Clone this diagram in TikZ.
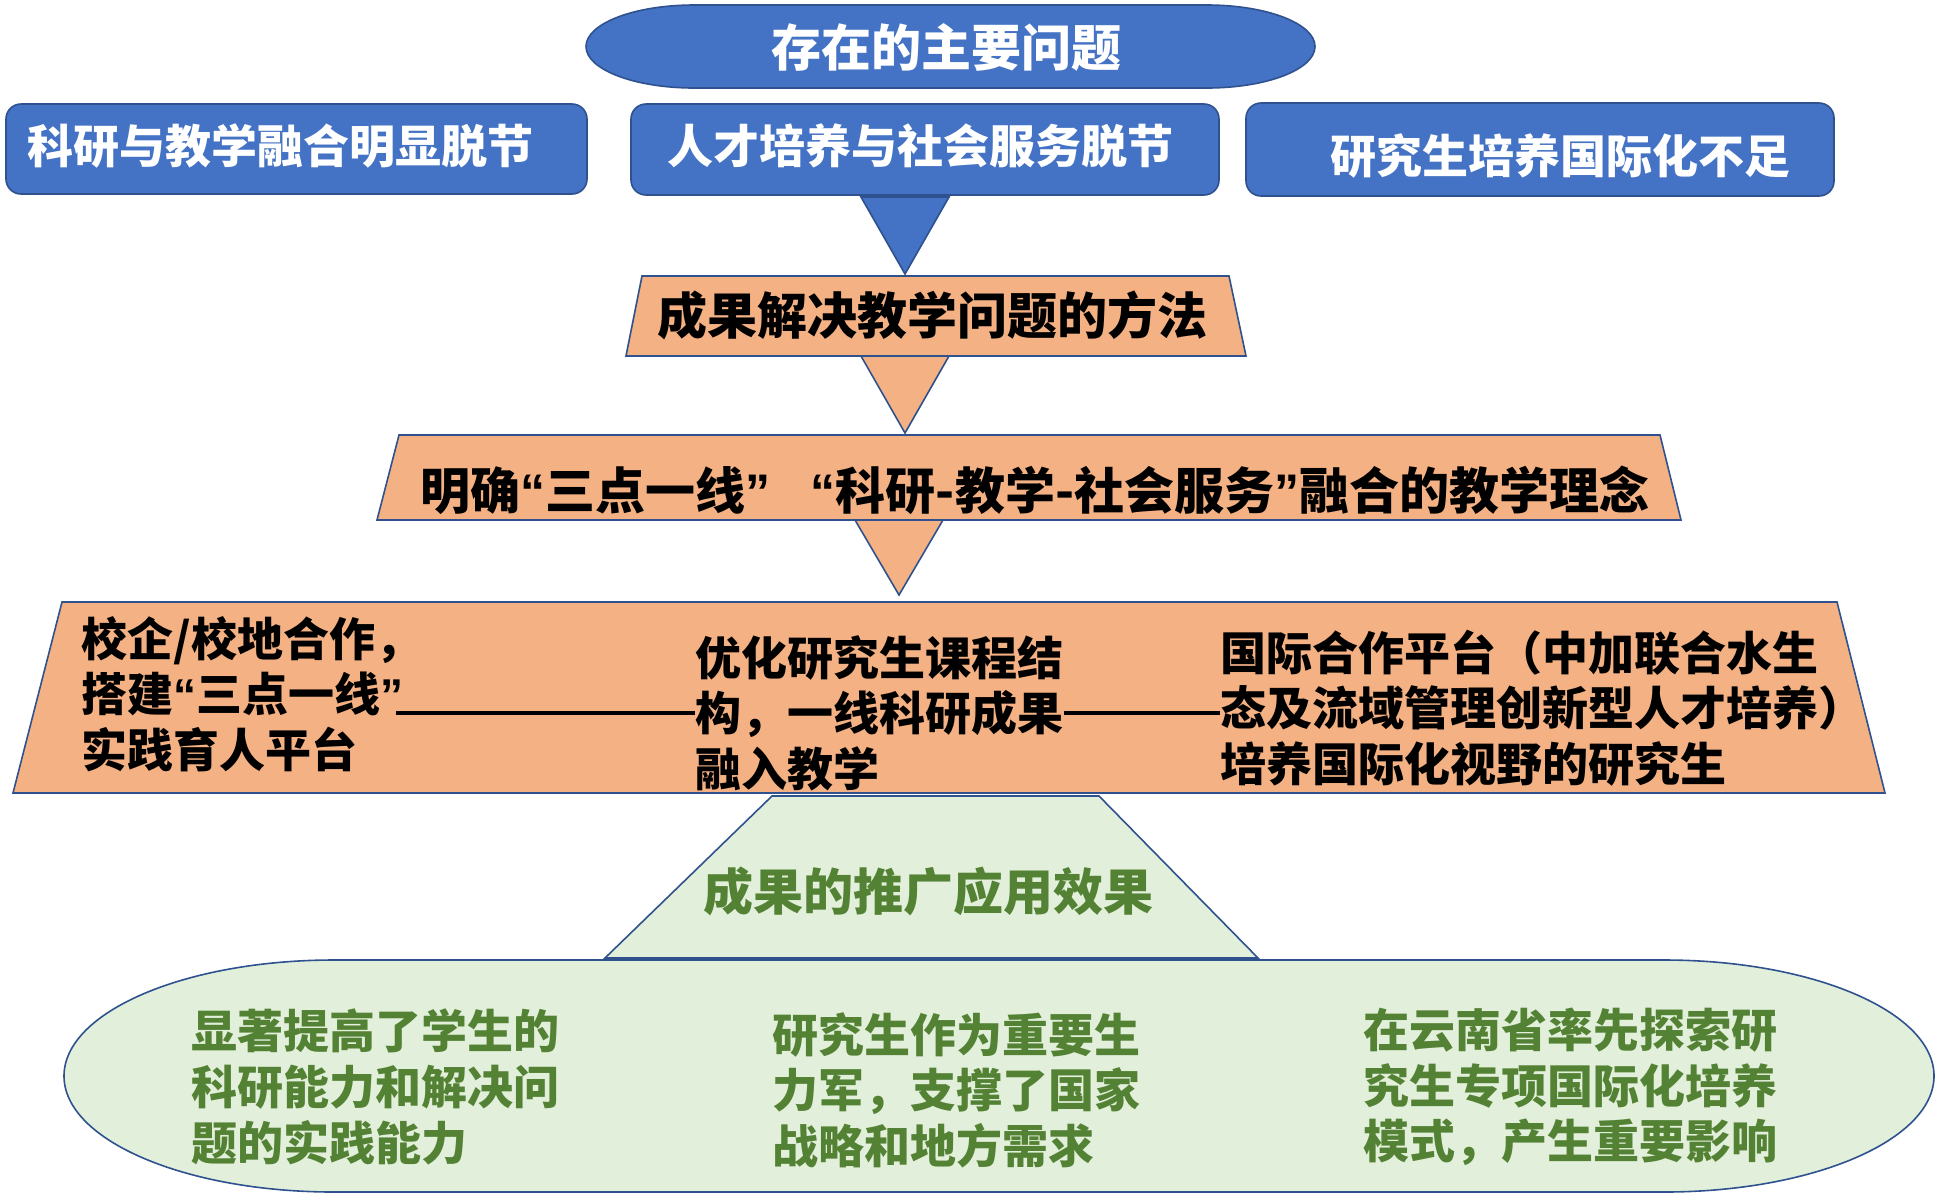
\documentclass[tikz,border=0pt]{standalone}
\usepackage{fontspec}
\setmainfont{Noto Sans CJK SC}
\newfontfamily\quotefont{Liberation Sans}
\newcommand{\qtopen}{{\quotefont “}}
\newcommand{\qtclose}{{\quotefont ”}}
\usepackage{tikz}
\definecolor{probBlue}{HTML}{4472C4}
\definecolor{edgeBlue}{HTML}{2F528F}
\definecolor{methodOrange}{HTML}{F4B183}
\definecolor{effectGreen}{HTML}{E2EFDA}
\definecolor{effectInk}{HTML}{548235}
\tikzset{
  probShape/.style={fill=probBlue, draw=edgeBlue, line width=0.8pt},
  methodShape/.style={fill=methodOrange, draw=edgeBlue, line width=0.8pt},
  effectShape/.style={fill=effectGreen, draw=edgeBlue, line width=0.8pt},
  bigText/.style={font=\bfseries\fontsize{25}{30}\selectfont, inner sep=0pt},
  midText/.style={font=\bfseries\fontsize{23}{27.8}\selectfont, inner sep=0pt, align=left},
  probText/.style={text=white},
  methodText/.style={text=black},
  effectText/.style={text=effectInk},
  linkLine/.style={draw=black, line width=1.8pt}
}

\begin{document}
\begin{tikzpicture}[x=0.5pt, y=-0.5pt]
  \useasboundingbox (0,0) rectangle (1937,1201);

  % problems
  \filldraw[probShape] (694,5) -- (1207,5)
    arc[start angle=-90, end angle=90, x radius=108, y radius=41.5] -- (694,88)
    arc[start angle=90, end angle=270, x radius=108, y radius=41.5] -- cycle;
  \node[bigText, probText] (probTitle) at (946,47) {存在的主要问题};

  \filldraw[probShape, rounded corners=7.5pt] (6,104) rectangle (587,194);
  \filldraw[probShape, rounded corners=7.5pt] (631,104) rectangle (1219,195);
  \filldraw[probShape, rounded corners=7.5pt] (1246,103) rectangle (1834,196);
  \node[midText, probText, anchor=west] (probA) at (27,146) {科研与教学融合明显脱节};
  \node[midText, probText, anchor=west] (probB) at (667,146) {人才培养与社会服务脱节};
  \node[midText, probText, anchor=west] (probC) at (1330,156) {研究生培养国际化不足};

  \filldraw[probShape] (861,197) -- (949,197) -- (905,274) -- cycle;

  % method
  \filldraw[methodShape] (642,276) -- (1229,276) -- (1246,356) -- (626,356) -- cycle;
  \node[bigText, methodText] (method) at (932,315) {成果解决教学问题的方法};
  \filldraw[methodShape] (861,356) -- (949,356) -- (905,433) -- cycle;

  \filldraw[methodShape] (399,435) -- (1660,435) -- (1681,520) -- (377,520) -- cycle;
  \node[bigText, methodText] (idea) at (1035,490) {明确\qtopen 三点一线\qtclose\hspace{0.8em}\qtopen 科研-教学-社会服务\qtclose 融合的教学理念};
  \filldraw[methodShape] (855,520) -- (943,520) -- (899,595) -- cycle;

  \filldraw[methodShape] (62,602) -- (1837,602) -- (1885,793) -- (13,793) -- cycle;
  \node[midText, methodText, anchor=west] (leftTxt) at (81,694) {校企/校地合作，\\搭建\qtopen 三点一线\qtclose\\实践育人平台};
  \node[midText, methodText, anchor=west] (midTxt) at (695,713) {优化研究生课程结\\构，一线科研成果\\融入教学};
  \node[midText, methodText, anchor=west] (rightTxt) at (1220,708) {国际合作平台（中加联合水生\\态及流域管理创新型人才培养）\\培养国际化视野的研究生};
  \draw[linkLine] ([xshift=-13pt]leftTxt.east |- midTxt.west) -- (midTxt.west);
  \draw[linkLine] (midTxt.east) -- (rightTxt.west |- midTxt.east);

  % effects
  \filldraw[effectShape] (772,796) -- (1099,796) -- (1258,958) -- (605,958) -- cycle;
  \node[bigText, effectText] (effect) at (928,891) {成果的推广应用效果};
  \filldraw[effectShape] (334,960) -- (1664,960)
    arc[start angle=-90, end angle=90, x radius=270, y radius=116] -- (334,1192)
    arc[start angle=90, end angle=270, x radius=270, y radius=116] -- cycle;
  \node[midText, effectText, anchor=west] (resA) at (191,1087) {显著提高了学生的\\科研能力和解决问\\题的实践能力};
  \node[midText, effectText, anchor=west] (resB) at (772,1090) {研究生作为重要生\\力军，支撑了国家\\战略和地方需求};
  \node[midText, effectText, anchor=west] (resC) at (1363,1087) {在云南省率先探索研\\究生专项国际化培养\\模式，产生重要影响};
\end{tikzpicture}
\end{document}
